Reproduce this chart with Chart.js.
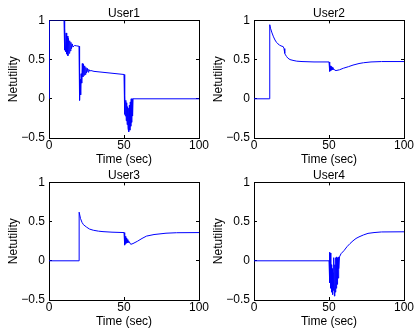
<!DOCTYPE html>
<html>
<head>
<meta charset="utf-8">
<script src="https://cdn.jsdelivr.net/npm/chart.js@4.4.0/dist/chart.umd.min.js"></script>
<style>
  html, body { margin: 0; padding: 0; background: #fff; }
  #fig { position: relative; width: 414px; height: 328px; overflow: hidden; }
  #fig canvas { position: absolute; }
</style>
</head>
<body>
<div id="fig">
  <canvas id="user1" width="225" height="170" style="left:0;top:0"></canvas>
  <canvas id="user2" width="225" height="170" style="left:205px;top:0"></canvas>
  <canvas id="user3" width="225" height="170" style="left:0;top:162px"></canvas>
  <canvas id="user4" width="225" height="170" style="left:205px;top:162px"></canvas>
</div>
<script>
// axis ticks
const xTicks = [0, 50, 100];
const yTicks = [-0.5, 0, 0.5, 1];

// User1
const t1 = [0, 0.2, 10, 10.25, 10.6, 11.0, 11.4, 11.8, 12.2, 12.6, 13.0, 13.4, 13.8, 14.2, 14.6, 15.0, 15.5, 16.0, 17, 18.5, 20,
  20.25, 20.5, 20.8, 21.1, 21.4, 21.8, 22.2, 22.6, 23.0, 23.4, 23.8, 24.2, 24.6, 25.0, 25.5, 26, 26.5, 27.2, 28, 30, 40, 50,
  50.3, 50.6, 50.9, 51.2, 51.5, 51.8, 52.1, 52.4, 52.7, 53.0, 53.3, 53.6, 53.9, 54.2, 54.5, 54.8, 55.1, 55.4, 55.7, 56, 100];
const u1 = [0, 1, 1, 0.62, 0.9, 0.6, 0.84, 0.57, 0.8, 0.55, 0.77, 0.58, 0.74, 0.61, 0.72, 0.64, 0.7, 0.66, 0.68, 0.675, 0.67,
  0.3, -0.02, 0.25, 0.05, 0.32, 0.2, 0.45, 0.28, 0.44, 0.3, 0.42, 0.31, 0.4, 0.33, 0.39, 0.34, 0.375, 0.355, 0.36, 0.35, 0.33, 0.31,
  -0.2, 0.04, -0.22, -0.02, -0.28, -0.05, -0.33, -0.1, -0.38, -0.12, -0.42, -0.08, -0.4, -0.04, -0.35, 0, -0.3, 0, -0.22, 0, 0];

// User2
const t2 = [0, 10.3, 10.5, 11, 12, 13, 14, 15, 16, 17, 18, 19.5, 20, 20.5, 21, 21.7, 22.5, 24, 26, 28.5, 32, 40, 50,
  50.3, 50.6, 50.9, 51.2, 51.5, 51.8, 52.2, 52.6, 53, 53.8, 54.7, 57, 59.6, 63, 66, 70, 73, 78, 85, 100];
const u2 = [0, 0, 0.945, 0.9, 0.84, 0.79, 0.75, 0.72, 0.7, 0.685, 0.675, 0.665, 0.64, 0.58, 0.56, 0.54, 0.52, 0.5, 0.49, 0.48, 0.475, 0.47, 0.47,
  0.43, 0.35, 0.42, 0.36, 0.41, 0.37, 0.4, 0.37, 0.385, 0.365, 0.36, 0.37, 0.39, 0.41, 0.43, 0.45, 0.46, 0.47, 0.475, 0.475];

// User3
const t3 = [0, 20, 20.1, 21, 22, 23, 25, 27, 29.5, 33, 36, 42, 50,
  50.3, 50.6, 50.9, 51.2, 51.5, 51.8, 52.2, 52.6, 53.2, 54.5, 56, 59, 62, 65, 70, 78, 85, 100];
const u3 = [0, 0, 0.62, 0.54, 0.49, 0.46, 0.43, 0.405, 0.39, 0.378, 0.372, 0.365, 0.36,
  0.3, 0.2, 0.31, 0.22, 0.29, 0.23, 0.27, 0.23, 0.25, 0.21, 0.22, 0.25, 0.285, 0.315, 0.335, 0.352, 0.358, 0.36];

// User4
const t4 = [0, 50, 50.3, 50.6, 50.9, 51.2, 51.5, 51.8, 52.1, 52.4, 52.7, 53.0, 53.3, 53.6, 53.9, 54.2, 54.5, 54.8, 55.1, 55.4, 55.7, 56.0, 56.3, 56.6,
  57, 58, 60, 62, 64, 66, 68, 70, 73, 76, 80, 85, 100];
const u4 = [0, 0, 0.11, -0.28, 0.1, -0.35, -0.05, -0.4, -0.1, -0.43, -0.15, -0.38, 0.04, -0.45, -0.05, -0.4, 0.04, -0.35, 0.05, -0.3, 0.04, -0.22, 0.05, -0.1,
  0.05, 0.09, 0.13, 0.18, 0.22, 0.255, 0.285, 0.305, 0.33, 0.35, 0.36, 0.368, 0.37];

Chart.defaults.font.family = "'Liberation Sans', Arial, Helvetica, sans-serif";
Chart.defaults.font.size = 12;
Chart.defaults.color = '#000';

const minus = v => String(v).replace('-', '\u2212');

function inwardGrid() {
  return { drawOnChartArea: false, tickLength: -3, color: '#000', lineWidth: 1 };
}

function makePanel(id, title, t, v) {
  const pts = t.map((x, i) => ({ x: x, y: v[i] }));
  const tickAt = list => scale => { scale.ticks = list.map(value => ({ value })); };

  return new Chart(document.getElementById(id), {
    type: 'line',
    data: {
      datasets: [{ data: pts, borderColor: '#0000ff', borderWidth: 1, pointRadius: 0, tension: 0, fill: false }]
    },
    options: {
      responsive: false,
      animation: false,
      layout: { padding: { left: 0, right: 26, top: 0, bottom: 0 } },
      plugins: {
        legend: { display: false },
        tooltip: { enabled: false },
        title: {
          display: true, text: title, fullSize: false, color: '#000',
          font: { size: 12, weight: 'normal' }, padding: { top: 6, bottom: 0 }
        }
      },
      scales: {
        x: {
          type: 'linear', position: 'bottom', min: 0, max: 100,
          grid: inwardGrid(), border: { color: '#000', width: 1 },
          ticks: { padding: 3, maxRotation: 0, callback: minus },
          afterBuildTicks: tickAt(xTicks),
          title: { display: true, text: 'Time (sec)', font: { size: 12 }, padding: { top: 0, bottom: 3 } },
          afterFit: s => { s.height = 32; }
        },
        x2: {
          type: 'linear', position: 'top', min: 0, max: 100,
          grid: inwardGrid(), border: { color: '#000', width: 1 },
          ticks: { display: false },
          afterBuildTicks: tickAt(xTicks),
          afterFit: s => { s.height = 0; }
        },
        y: {
          type: 'linear', position: 'left', min: -0.5, max: 1,
          grid: inwardGrid(), border: { color: '#000', width: 1 },
          ticks: { padding: 7, callback: minus },
          afterBuildTicks: tickAt(yTicks),
          title: { display: true, text: 'Netutility', font: { size: 12 }, padding: { top: 6, bottom: 0 } },
          afterFit: s => { s.width = 49; }
        },
        y2: {
          type: 'linear', position: 'right', min: -0.5, max: 1,
          grid: inwardGrid(), border: { color: '#000', width: 1 },
          ticks: { display: false },
          afterBuildTicks: tickAt(yTicks),
          afterFit: s => { s.width = 0; }
        }
      }
    }
  });
}

makePanel('user1', 'User1', t1, u1);
makePanel('user2', 'User2', t2, u2);
makePanel('user3', 'User3', t3, u3);
makePanel('user4', 'User4', t4, u4);
</script>
</body>
</html>
